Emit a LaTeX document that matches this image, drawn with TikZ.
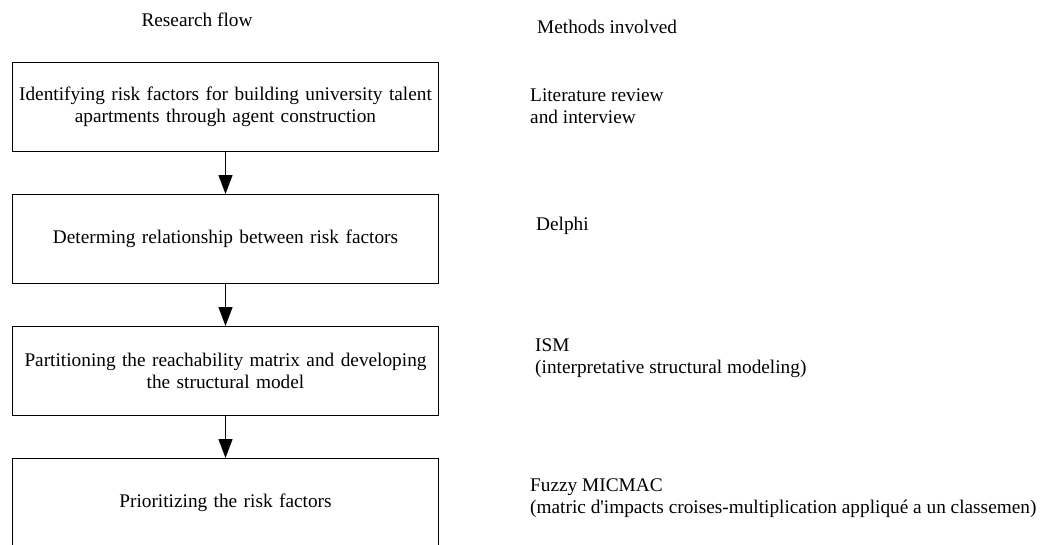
\documentclass[tikz,border=0pt]{standalone}
\usepackage{fontspec}
\setmainfont{Liberation Serif}
\usepackage{tikz}
\usetikzlibrary{arrows.meta,positioning}

\begin{document}
\begin{tikzpicture}[
  x=1pt, y=-1pt,
  font=\fontsize{19.3}{22}\selectfont,
  node distance=42pt,
  every node/.style={inner sep=0pt},
  stage/.style={draw=black, line width=1.2pt, minimum width=426pt,
                minimum height=88.8pt, text width=424pt, align=center},
  method/.style={anchor=west, align=left},
  ar/.style={-{Triangle[length=19pt, width=14pt]}, line width=1.3pt},
]
\clip (0,0) rectangle (1059,544);
\useasboundingbox (0,0) rectangle (1059,544);

% column heads
\node (hflow) at (197,20) {Research flow};
\node[method] (hmeth) at (537,27) {Methods involved};

% research flow
\node[stage] (ident) at (225.5,107)
  {Identifying risk factors for building university talent\\
   apartments through agent construction};
\node[stage, below=of ident] (relat) {Determing relationship between risk factors};
\node[stage, below=of relat] (part)
  {Partitioning the reachability matrix and developing\\the structural model};
\node[stage, below=of part] (prio) {Prioritizing the risk factors};

\foreach \a/\b in {ident/relat, relat/part, part/prio}
  \draw[ar] (\a) -- (\b);

% methods involved
\node[method] (mlit) at (530,106) {Literature review\\and interview};
\node[method] (mdel) at (536,226) {Delphi};
\node[method] (mism) at (535,358) {ISM\\(interpretative structural modeling)};
\node[method] (mfuz) at (530,498)
  {Fuzzy MICMAC\\(matric d\textquotesingle impacts croises-multiplication appliqué a un classemen)};

\end{tikzpicture}
\end{document}
